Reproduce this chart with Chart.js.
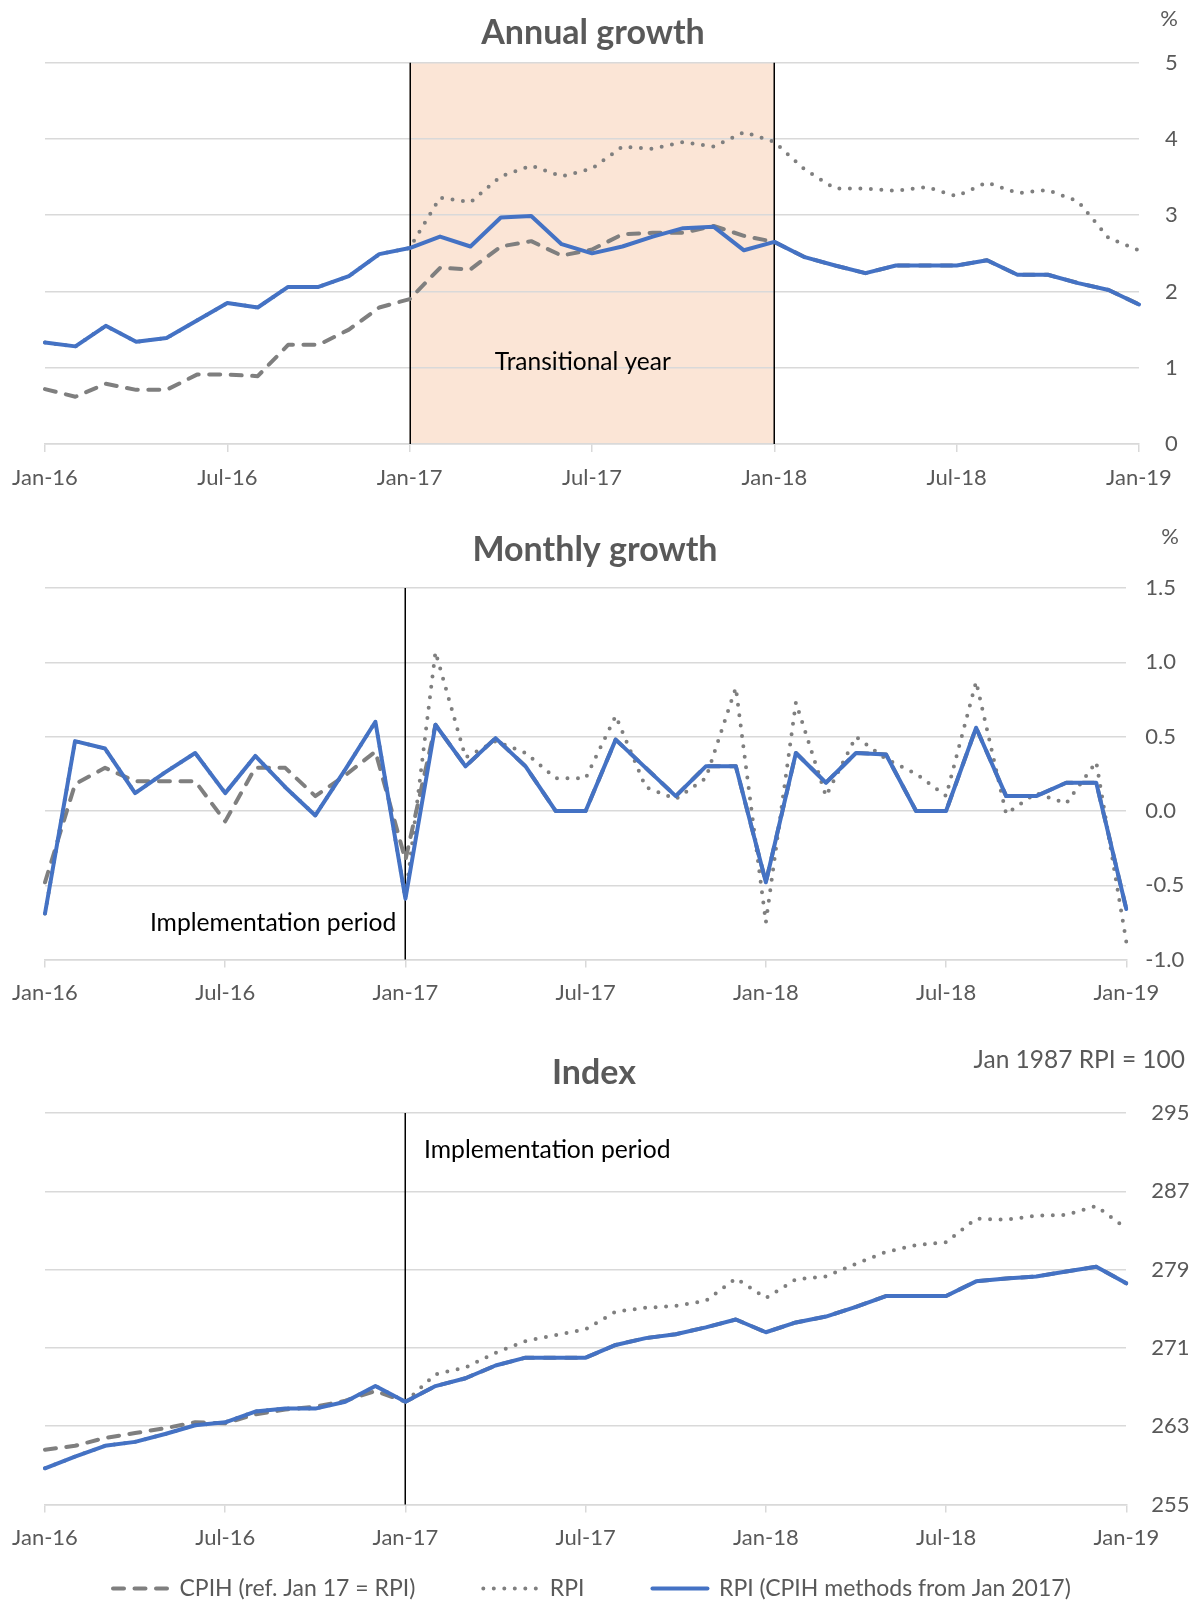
<!DOCTYPE html>
<html><head><meta charset="utf-8">
<script src="https://cdn.jsdelivr.net/npm/chart.js@4.4.1/dist/chart.umd.min.js"></script>
<style>
html,body{margin:0;padding:0;background:#fff;overflow:hidden;width:1198px;height:1604px;}
canvas{position:absolute;left:0;}
#c1{top:0}#c2{top:500px}#c3{top:1000px}
</style></head><body>
<canvas id="c1" width="1198" height="500"></canvas>
<canvas id="c2" width="1198" height="510"></canvas>
<canvas id="c3" width="1198" height="610"></canvas>
<script>
// ---------- DATA ----------
const months = ['Jan-16','Feb-16','Mar-16','Apr-16','May-16','Jun-16','Jul-16','Aug-16','Sep-16','Oct-16','Nov-16','Dec-16',
  'Jan-17','Feb-17','Mar-17','Apr-17','May-17','Jun-17','Jul-17','Aug-17','Sep-17','Oct-17','Nov-17','Dec-17',
  'Jan-18','Feb-18','Mar-18','Apr-18','May-18','Jun-18','Jul-18','Aug-18','Sep-18','Oct-18','Nov-18','Dec-18','Jan-19'];
const seriesNames = ['CPIH (ref. Jan 17 = RPI)', 'RPI', 'RPI (CPIH methods from Jan 2017)'];

const annualCpih = [0.72,0.62,0.79,0.71,0.71,0.91,0.91,0.89,1.30,1.30,1.50,1.79,
  1.90,2.31,2.29,2.59,2.66,2.47,2.55,2.75,2.77,2.77,2.86,2.73,
  2.65,2.45,2.34,2.24,2.34,2.34,2.34,2.41,2.22,2.22,2.11,2.02,1.83];
const annualRpi = [1.33,1.28,1.55,1.34,1.39,1.62,1.85,1.79,2.06,2.06,2.20,2.49,
  2.57,3.23,3.17,3.51,3.65,3.51,3.61,3.90,3.87,3.96,3.90,4.09,
  3.96,3.60,3.35,3.35,3.32,3.37,3.25,3.43,3.29,3.33,3.18,2.70,2.54];
const annualRpiCpihMethods = [1.33,1.28,1.55,1.34,1.39,1.62,1.85,1.79,2.06,2.06,2.20,2.49,
  2.57,2.72,2.59,2.97,2.99,2.62,2.50,2.59,2.72,2.83,2.85,2.54,
  2.65,2.45,2.34,2.24,2.34,2.34,2.34,2.41,2.22,2.22,2.11,2.02,1.83];

const monthlyCpih = [-0.48,0.18,0.29,0.20,0.20,0.20,-0.07,0.29,0.29,0.10,0.24,0.40,
  -0.33,0.58,0.30,0.49,0.30,0.00,0.00,0.48,0.29,0.10,0.30,0.30,
  -0.48,0.39,0.19,0.39,0.38,0.00,0.00,0.56,0.10,0.10,0.19,0.19,-0.66];
const monthlyRpi = [-0.69,0.47,0.42,0.12,0.26,0.39,0.12,0.37,0.16,-0.03,0.28,0.60,
  -0.59,1.07,0.36,0.47,0.39,0.22,0.22,0.64,0.16,0.08,0.22,0.83,
  -0.75,0.73,0.10,0.50,0.35,0.25,0.10,0.87,-0.02,0.12,0.05,0.33,-0.88];
const monthlyRpiCpihMethods = [-0.69,0.47,0.42,0.12,0.26,0.39,0.12,0.37,0.16,-0.03,0.28,0.60,
  -0.59,0.58,0.30,0.49,0.30,0.00,0.00,0.48,0.29,0.10,0.30,0.30,
  -0.48,0.39,0.19,0.39,0.38,0.00,0.00,0.56,0.10,0.10,0.19,0.19,-0.66];

const indexCpih = [260.6,261.0,261.8,262.3,262.8,263.4,263.3,264.2,264.7,265.0,265.6,266.6,
  265.5,267.1,267.9,269.2,270.0,270.0,270.0,271.3,272.0,272.4,273.1,273.9,
  272.6,273.6,274.2,275.2,276.3,276.3,276.3,277.8,278.1,278.3,278.8,279.3,277.6];
const indexRpi = [258.7,259.9,261.0,261.4,262.2,263.1,263.4,264.5,264.8,264.8,265.5,267.1,
  265.5,268.3,269.0,270.5,271.7,272.3,272.9,274.7,275.1,275.3,275.8,278.1,
  276.1,278.0,278.3,279.6,280.8,281.5,281.8,284.2,284.1,284.5,284.6,285.5,283.2];
const indexRpiCpihMethods = [258.7,259.9,261.0,261.4,262.2,263.1,263.4,264.5,264.8,264.8,265.5,267.1,
  265.5,267.1,267.9,269.2,270.0,270.0,270.0,271.3,272.0,272.4,273.1,273.9,
  272.6,273.6,274.2,275.2,276.3,276.3,276.3,277.8,278.1,278.3,278.8,279.3,277.6];

const annualTicks = {min: 0, max: 5, step: 1};
const monthlyTicks = {min: -1, max: 1.5, step: 0.5};
const indexTicks = {min: 255, max: 295, step: 8};
const labelEvery = 6;

// ---------- STYLE ----------
const TEXT = '#595959', GRID = '#d9d9d9', BLUE = '#4472c4', GRAY = '#7f7f7f';
const FONT = 'Lato, "Open Sans", sans-serif';
Chart.defaults.font.family = FONT;
Chart.defaults.color = TEXT;

const styles = [
  {borderColor: GRAY, borderWidth: 4, borderDash: [11, 10.5], borderCapStyle: 'round'},
  {borderColor: GRAY, borderWidth: 4, borderDash: [0, 10.5], borderCapStyle: 'round'},
  {borderColor: BLUE, borderWidth: 4, borderDash: [], borderCapStyle: 'round'}
];

function datasets(cpih, rpi, blue) {
  // blue first so that it is drawn on top
  const vals = [cpih, rpi, blue];
  return [2, 1, 0].map(i => Object.assign({label: seriesNames[i], data: vals[i],
    pointRadius: 0, tension: 0, borderJoinStyle: 'round', fill: false}, styles[i]));
}

const decor = {
  id: 'decor',
  beforeDraw(chart, args, o) {
    if (!o.shade) return;
    const {ctx, chartArea: a, scales: {x}} = chart;
    const x0 = x.getPixelForValue(o.shade.from), x1 = x.getPixelForValue(o.shade.to);
    ctx.save(); ctx.fillStyle = o.shade.color;
    ctx.fillRect(x0, a.top, x1 - x0, a.bottom - a.top); ctx.restore();
  },
  beforeDatasetsDraw(chart, args, o) {
    const {ctx, chartArea: a, scales: {x}} = chart;
    ctx.save(); ctx.strokeStyle = '#000'; ctx.lineWidth = 1.5;
    (o.vlines || []).forEach(v => {
      const px = Math.round(x.getPixelForValue(v)) + 0.25;
      ctx.beginPath(); ctx.moveTo(px, a.top); ctx.lineTo(px, a.bottom); ctx.stroke();
    });
    ctx.restore();
  },
  afterDraw(chart, args, o) {
    const {ctx, scales: {x, y}} = chart;
    ctx.save();
    (o.texts || []).forEach(t => {
      ctx.font = t.font; ctx.fillStyle = t.color; ctx.textAlign = t.align; ctx.textBaseline = 'middle';
      const px = (t.xv !== undefined ? x.getPixelForValue(t.xv) : 0) + (t.dx || 0);
      const py = (t.yv !== undefined ? y.getPixelForValue(t.yv) : 0) + (t.dy || 0);
      ctx.fillText(t.text, px, py);
    });
    ctx.restore();
  }
};

function makeChart(id, p) {
  return new Chart(document.getElementById(id), {
    type: 'line',
    data: {labels: months, datasets: datasets(p.cpih, p.rpi, p.blue)},
    plugins: [decor],
    options: {
      responsive: false, animation: false, devicePixelRatio: 1,
      layout: {padding: {left: 45, right: 0, top: p.top, bottom: 0}},
      plugins: {
        tooltip: {enabled: false},
        decor: p.decor,
        legend: p.legend || {display: false}
      },
      scales: {
        x: {
          type: 'category', offset: false,
          grid: {drawOnChartArea: false, drawTicks: true, tickLength: 8, lineWidth: 1.5,
                 color: c => (c.index % labelEvery === 0 ? GRID : 'rgba(0,0,0,0)')},
          border: {display: true, color: GRID, width: 1.5},
          ticks: {autoSkip: false, maxRotation: 0, minRotation: 0, padding: -46.9, mirror: true, color: TEXT,
                  font: {size: 22}, callback: (v, i) => (i % labelEvery === 0 ? months[i] : '')},
          afterFit: s => { s.height = p.xh; }
        },
        y: {
          position: 'right', min: p.ticks.min, max: p.ticks.max,
          grid: {color: GRID, lineWidth: 1.5, drawTicks: false},
          border: {display: false},
          ticks: {stepSize: p.ticks.step, padding: p.ypad, color: TEXT, font: {size: 22},
                  callback: p.fmt},
          afterFit: s => { s.width = p.yw; }
        }
      }
    }
  });
}

makeChart('c1', {
  cpih: annualCpih, rpi: annualRpi, blue: annualRpiCpihMethods,
  top: 62.7, xh: 56, yw: 59, ypad: 26, ticks: annualTicks, fmt: v => String(v),
  decor: {
    shade: {from: 12, to: 24, color: '#fbe5d6'},
    vlines: [12, 24],
    texts: [
      {text: 'Annual growth', dx: 593, dy: 33, font: 'bold 34px ' + FONT, color: TEXT, align: 'center'},
      {text: '%', dx: 1169, dy: 18.5, font: '22px ' + FONT, color: TEXT, align: 'center'},
      {text: 'Transitional year', xv: 17.7, yv: 1.07, font: '24.5px ' + FONT, color: '#000', align: 'center'}
    ]
  }
});

makeChart('c2', {
  cpih: monthlyCpih, rpi: monthlyRpi, blue: monthlyRpiCpihMethods,
  top: 88, xh: 50.4, yw: 71.7, ypad: 19, ticks: monthlyTicks, fmt: v => Number(v).toFixed(1),
  decor: {
    vlines: [12],
    texts: [
      {text: 'Monthly growth', dx: 595, dy: 50, font: 'bold 34px ' + FONT, color: TEXT, align: 'center'},
      {text: '%', dx: 1170, dy: 37, font: '22px ' + FONT, color: TEXT, align: 'center'},
      {text: 'Implementation period', xv: 12, dx: -9, yv: -0.752, font: '24.7px ' + FONT, color: '#000', align: 'right'}
    ]
  }
});

makeChart('c3', {
  cpih: indexCpih, rpi: indexRpi, blue: indexRpiCpihMethods,
  top: 113, xh: 4.5, yw: 71.7, ypad: 25, ticks: indexTicks, fmt: v => String(v),
  decor: {
    vlines: [12],
    texts: [
      {text: 'Index', dx: 594, dy: 73, font: 'bold 34px ' + FONT, color: TEXT, align: 'center'},
      {text: 'Jan 1987 RPI = 100', dx: 1185, dy: 60, font: '24.5px ' + FONT, color: TEXT, align: 'right'},
      {text: 'Implementation period', xv: 12, dx: 18.6, yv: 291.2, font: '24.7px ' + FONT, color: '#000', align: 'left'}
    ]
  },
  legend: {
    display: true, position: 'bottom', align: 'start',
    labels: {
      usePointStyle: true, pointStyle: 'line', pointStyleWidth: 55, boxHeight: 23, padding: 68,
      color: TEXT, font: {size: 23},
      generateLabels: chart => [2, 1, 0].map(i => {
        const d = chart.data.datasets[i];
        return {text: d.label, datasetIndex: i, strokeStyle: d.borderColor, fillStyle: d.borderColor,
                lineWidth: d.borderWidth, lineDash: d.borderDash, lineCap: d.borderCapStyle,
                pointStyle: 'line', fontColor: TEXT, hidden: !chart.isDatasetVisible(i)};
      })
    }
  }
});
</script>
</body></html>
